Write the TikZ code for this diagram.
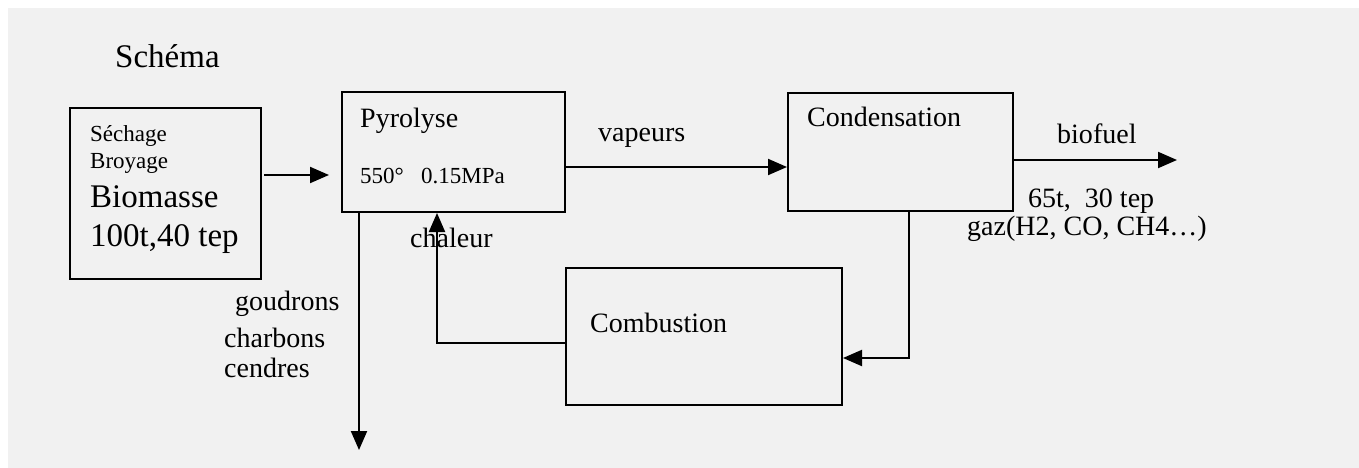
\documentclass[tikz,border=0pt]{standalone}
\usepackage{fontspec}
\setmainfont{Liberation Serif}
\usetikzlibrary{arrows.meta,positioning}
\definecolor{scan}{RGB}{241,241,241}
\tikzset{
  box/.style = {draw, line width=2pt, rectangle, inner sep=0pt},
  txt/.style = {inner sep=0pt, anchor=base west, font=\fontsize{28}{30}\selectfont},
  small/.style = {txt, font=\fontsize{23}{25}\selectfont},
  large/.style = {txt, font=\fontsize{33}{36}\selectfont},
  arrow/.style = {line width=2pt, -{Triangle[length=19pt,width=16pt]}}
}

\begin{document}
\begin{tikzpicture}[x=1pt, y=-1pt]
        \useasboundingbox (0,0) rectangle (1359,468);
        \fill[scan] (8,8) rectangle (1359,468);
        \node[box, minimum width=191pt, minimum height=171pt] (biomasse) at (165.5,193.5) {};
        \node[box, minimum width=223pt, minimum height=120pt] (pyro) at (453.5,152) {};
        \node[box, minimum width=225pt, minimum height=118pt] (cond) at (900.5,152) {};
        \node[box, minimum width=276pt, minimum height=137pt] (comb) at (704,336.5) {};
        \node[large] (schema) at (115,68) {Schéma};
        \node[small] (sechage) at (90,142) {Séchage};
        \node[small] (broyage) at (90,168) {Broyage};
        \node[large] (bio) at (90,207) {Biomasse};
        \node[large] (bioqty) at (90,246) {100t,40 tep};
        \node[txt] (pyrotxt) at (360,128) {Pyrolyse};
        \node[small] (pyrocond) at (360,183) {550°\ \ \ 0.15MPa};
        \node[txt] (vapeurs) at (598,142) {vapeurs};
        \node[txt] (condtxt) at (807,127) {Condensation};
        \node[txt] (biofuel) at (1057,143) {biofuel};
        \node[txt] (fuelqty) at (1028,207) {65t,\ \ 30 tep};
        \node[txt] (gaz) at (967,235) {gaz(H2, CO, CH4…)};
        \node[txt] (chaleur) at (410,247) {chaleur};
        \node[txt] (combtxt) at (590,332) {Combustion};
        \node[txt] (goudrons) at (235,310) {goudrons};
        \node[txt] (charbons) at (224,347) {charbons};
        \node[txt] (cendres) at (224,377) {cendres};
        \coordinate (fuelout) at (1177,160);
        \coordinate (residus) at (359,450);
        \draw[arrow, shorten <=2pt, shorten >=12pt] ([yshift=18.5pt]biomasse.east) -- ([yshift=-23pt]pyro.west);
        \draw[arrow] ([yshift=-15pt]pyro.east) -- ([yshift=-15pt]pyro.east -| cond.west);
        \draw[arrow] ([yshift=-8pt]cond.east) -- (fuelout);
        \draw[arrow] ([xshift=8.5pt]cond.south) |- ([yshift=-21.5pt]comb.east);
        \draw[arrow] ([yshift=-6.5pt]comb.west) -| ([xshift=-16.5pt]pyro.south);
        \draw[arrow] (pyro.south -| residus) -- (residus);
\end{tikzpicture}
\end{document}
